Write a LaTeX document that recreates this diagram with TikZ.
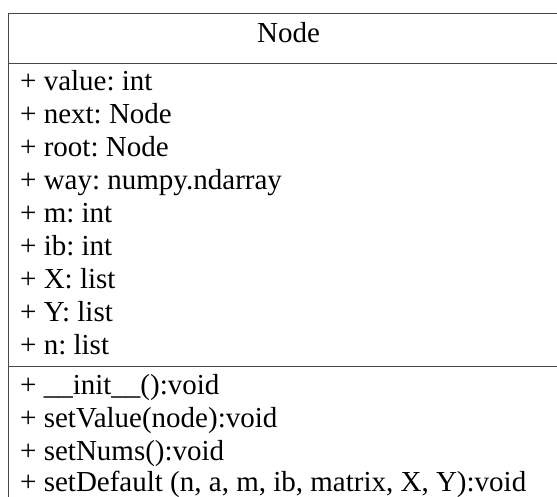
\documentclass[tikz,border=0pt]{standalone}
\usepackage{fontspec}
\setmainfont{Liberation Serif}
\frenchspacing
\begin{document}
\begin{tikzpicture}[x=1pt,y=-1pt,
  frame/.style={draw=black!72,line width=1.3pt},
  member/.style={anchor=base west,inner sep=0pt,font=\fontsize{29}{33}\selectfont},
  title/.style={anchor=base,inner sep=0pt,font=\fontsize{29}{33}\selectfont}]
\useasboundingbox (0,0) rectangle (557,496);
\clip (0,0) rectangle (557,496);
% class box: outline and compartment separators
\draw[frame] (8.5,520) -- (8.5,13.5) -- (580,13.5);
\draw[frame] (8.5,63.5) -- (580,63.5);
\draw[frame] (8.5,366.5) -- (580,366.5);
% class name
\node[title] (name) at (288.5,42) {Node};
% attributes
\node[member] (a1) at (20,90.5) {+ value: int};
\node[member] (a2) at (20,123.5) {+ next: Node};
\node[member] (a3) at (20,156.5) {+ root: Node};
\node[member] (a4) at (20,189.5) {+ way: numpy.ndarray};
\node[member] (a5) at (20,222.5) {+ m: int};
\node[member] (a6) at (20,255.5) {+ ib: int};
\node[member] (a7) at (20,288.5) {+ X: list};
\node[member] (a8) at (20,321.5) {+ Y: list};
\node[member] (a9) at (20,354.5) {+ n: list};
% operations
\node[member] (o1) at (20,394) {+ \_\_init\_\_():void};
\node[member] (o2) at (20,427) {+ setValue(node):void};
\node[member] (o3) at (20,460) {+ setNums():void};
\node[member] (o4) at (20,491) {+ setDefault (n, a, m, ib, matrix, X, Y):void};
\end{tikzpicture}
\end{document}
